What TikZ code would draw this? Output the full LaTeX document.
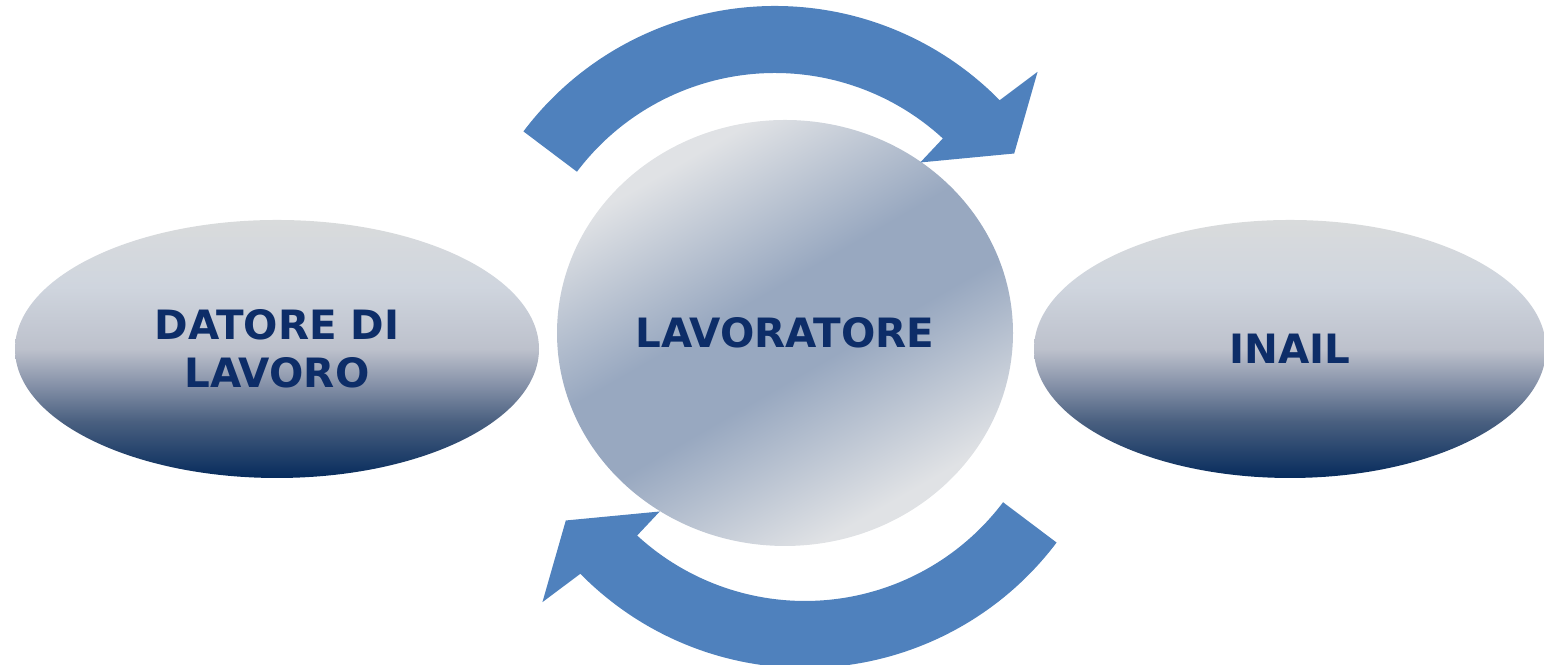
\documentclass[tikz,border=0pt]{standalone}
\usepackage{fontspec}
\setmainfont{DejaVu Sans}
\usepackage{tikz}
\usetikzlibrary{shapes.geometric}

\definecolor{arrowblue}{HTML}{4F81BD}
\definecolor{labelnavy}{HTML}{0D2D68}
\definecolor{ovalA}{HTML}{062B5C}
\definecolor{ovalB}{HTML}{4A6080}
\definecolor{ovalC}{HTML}{8591A8}
\definecolor{ovalD}{HTML}{BDC1CC}
\definecolor{ovalE}{HTML}{CFD5DE}
\definecolor{ovalF}{HTML}{D9DBDC}
\definecolor{ballLight}{HTML}{E0E2E5}
\definecolor{ballDark}{HTML}{98A8C0}

\pgfdeclareverticalshading{ovalshade}{100bp}{color(0bp)=(ovalA); color(25bp)=(ovalA); color(36bp)=(ovalB); color(43bp)=(ovalC); color(50bp)=(ovalD); color(62bp)=(ovalE); color(75bp)=(ovalF); color(100bp)=(ovalF)}
\pgfdeclarehorizontalshading{ballshade}{100bp}{color(0bp)=(ballLight); color(27bp)=(ballLight); color(45bp)=(ballDark); color(55bp)=(ballDark); color(73bp)=(ballLight); color(100bp)=(ballLight)}

\tikzset{
  label text/.style={text=labelnavy, font=\fontsize{11.5}{13.6}\selectfont\bfseries, align=center},
  oval/.style={ellipse, shading=ovalshade, inner sep=0pt, outer sep=0pt, label text},
  ball/.style={ellipse, shading=ballshade, shading angle=-60, inner sep=0pt, outer sep=0pt,
    minimum width=4.56cm, minimum height=4.26cm, label text}
}

\begin{document}
\begin{tikzpicture}
\useasboundingbox (0,0) rectangle (15.44,6.65);

\node[oval, minimum width=5.24cm, minimum height=2.58cm] (datore) at (2.77,3.16) {DATORE DI\\LAVORO};
\node[ball] (lavoratore) at (7.85,3.32) {LAVORATORE};
\node[oval, minimum width=5.12cm, minimum height=2.58cm] (inail) at (12.90,3.16) {INAIL};

\coordinate (topc) at (7.75,3.44);
\coordinate (botc) at (8.05,3.12);

\foreach \c/\r in {topc/0, botc/180}{
  \begin{scope}[shift={(\c)}, rotate=\r]
    \fill[arrowblue] (143:3.15) arc[start angle=143, end angle=44.5, radius=3.15]
      -- (43.5:3.62) -- (35:2.92) -- (47.5:2.15) -- (47.4:2.48)
      arc[start angle=47.4, end angle=143, radius=2.48] -- cycle;
  \end{scope}
}

\end{tikzpicture}
\end{document}
